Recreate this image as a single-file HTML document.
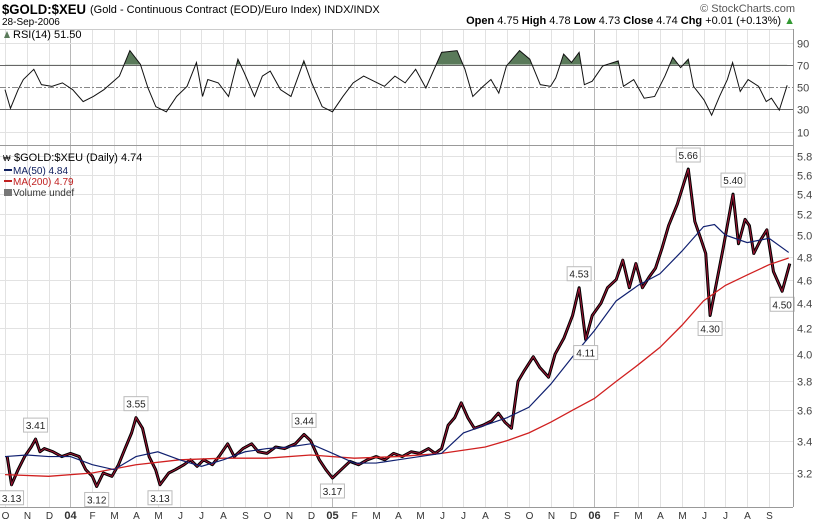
<!DOCTYPE html>
<html><head><meta charset="utf-8"><style>
body{margin:0;background:#fff;width:813px;height:523px;overflow:hidden;font-family:"Liberation Sans",sans-serif}
svg{display:block}
</style></head><body>
<svg id="chart" width="813" height="523" font-family="Liberation Sans, sans-serif">
<text x="2" y="14" font-size="14" font-weight="bold" textLength="84" lengthAdjust="spacingAndGlyphs">$GOLD:$XEU</text>
<text x="90" y="13" font-size="11">(Gold - Continuous Contract (EOD)/Euro Index) INDX/INDX</text>
<text x="2" y="25" font-size="10">28-Sep-2006</text>
<text x="795" y="12" font-size="11" text-anchor="end" fill="#555">© StockCharts.com</text>
<text x="795" y="24" font-size="11" text-anchor="end"><tspan font-weight="bold">Open</tspan> 4.75 <tspan font-weight="bold">High</tspan> 4.78 <tspan font-weight="bold">Low</tspan> 4.73 <tspan font-weight="bold">Close</tspan> 4.74 <tspan font-weight="bold">Chg</tspan> +0.01 (+0.13%) <tspan fill="#393">▲</tspan></text>
<g id="grid"></g>
<g id="rsi"></g>
<g id="price"></g>
<g id="axes"></g>
<text x="13" y="38" font-size="11">RSI(14) 51.50</text>
<path d="M4 38 L7 31 L10 38 Z" fill="#5a7a5a"/>
<text x="14" y="161" font-size="11">$GOLD:$XEU (Daily) 4.74</text>
<text x="3" y="161" font-size="8">₩</text>
<line x1="4" y1="170" x2="12" y2="170" stroke="#102060" stroke-width="2"/>
<text x="13" y="174" font-size="10" fill="#102060">MA(50) 4.84</text>
<line x1="4" y1="181" x2="12" y2="181" stroke="#c02020" stroke-width="2"/>
<text x="13" y="185" font-size="10" fill="#c02020">MA(200) 4.79</text>
<text x="13" y="196" font-size="10" fill="#333">Volume undef</text>
<rect x="4" y="189" width="8" height="7" fill="#777"/>
</svg>
<script>
const monthLabels=["O","N","D","04","F","M","A","M","J","J","A","S","O","N","D","05","F","M","A","M","J","J","A","S","O","N","D","06","F","M","A","M","J","J","A","S"];
const priceTicks=[3.2,3.4,3.6,3.8,4.0,4.2,4.4,4.6,4.8,5.0,5.2,5.4,5.6,5.8];
const rsiTicks=[10,30,50,70,90];
const priceT=[0.1,0.3,0.6,0.9,1.2,1.4,1.6,1.8,2.2,2.6,3.0,3.4,3.7,4.0,4.2,4.5,4.9,5.2,5.5,5.8,6.0,6.3,6.6,6.9,7.1,7.5,7.8,8.2,8.5,8.8,9.1,9.5,9.8,10.2,10.5,10.9,11.3,11.6,12.0,12.4,12.8,13.3,13.7,14.0,14.4,14.7,
15.0,15.4,15.8,16.2,16.6,17.0,17.4,17.8,18.2,18.6,19.0,19.4,19.7,20.0,20.3,20.6,20.9,21.2,21.5,21.9,22.3,22.6,22.9,23.2,23.5,23.8,24.2,24.5,24.9,25.2,25.6,26.0,26.3,26.6,26.9,27.3,27.6,28.0,28.3,28.6,28.9,29.2,29.5,29.8,30.1,30.4,30.8,31.3,31.6,31.9,32.1,32.3,32.6,32.9,33.35,33.6,33.9,34.1,34.3,34.6,34.9,35.2,35.6,35.95];
const priceV=[3.30,3.13,3.22,3.30,3.36,3.41,3.33,3.35,3.33,3.30,3.32,3.30,3.22,3.18,3.12,3.20,3.18,3.25,3.35,3.45,3.55,3.48,3.30,3.22,3.13,3.20,3.22,3.25,3.28,3.24,3.28,3.25,3.30,3.38,3.30,3.35,3.38,3.33,3.32,3.36,3.35,3.38,3.44,3.40,3.28,3.22,
3.17,3.22,3.27,3.25,3.28,3.30,3.28,3.32,3.30,3.33,3.32,3.35,3.32,3.35,3.50,3.55,3.65,3.55,3.48,3.50,3.53,3.58,3.52,3.48,3.80,3.88,3.98,3.90,3.83,4.00,4.12,4.30,4.53,4.11,4.30,4.40,4.53,4.60,4.77,4.53,4.74,4.53,4.62,4.70,4.88,5.09,5.30,5.66,5.13,4.95,4.83,4.30,4.58,4.88,5.40,4.92,5.15,5.09,4.83,4.95,5.05,4.67,4.50,4.74];
const ma50T=[0,1,2,3,4,5,6,7,8,9,10,11,12,13,14,15,16,17,18,19,20,21,22,23,24,25,26,27,28,29,30,31,32,32.5,33,34,35,35.9];
const ma50V=[3.30,3.31,3.30,3.30,3.25,3.22,3.30,3.33,3.28,3.24,3.28,3.33,3.35,3.36,3.38,3.32,3.26,3.26,3.28,3.30,3.32,3.45,3.50,3.55,3.62,3.78,3.98,4.18,4.42,4.55,4.65,4.85,5.08,5.10,5.00,4.93,4.97,4.84];
const ma200T=[0,2,4,6,8,10,12,14,16,18,20,22,23,24,25,26,27,28,29,30,31,32,33,34,35,35.9];
const ma200V=[3.19,3.18,3.20,3.25,3.28,3.29,3.29,3.31,3.29,3.30,3.32,3.36,3.40,3.45,3.52,3.60,3.68,3.80,3.92,4.05,4.22,4.42,4.55,4.64,4.73,4.79];
const rsiT=[0,0.25,0.6,0.84,1.32,1.67,2.15,2.63,3.1,3.58,4.05,4.53,5.24,5.72,6.2,6.55,6.91,7.39,7.86,8.34,8.77,9.05,9.29,9.77,10.24,10.67,10.96,11.43,11.79,12.15,12.62,13.1,13.69,14.05,14.53,15.0,15.48,15.95,16.43,16.9,17.38,17.86,18.33,18.81,19.28,20.0,20.71,21.07,21.43,21.9,22.26,22.62,22.97,23.57,24.04,24.52,24.99,25.23,25.59,25.95,26.3,26.54,26.9,27.38,28.09,28.33,28.8,29.28,29.76,30.23,30.59,30.95,31.3,31.54,32.02,32.37,32.73,33.09,33.33,33.68,34.04,34.52,34.87,35.11,35.47,35.83];
const rsiV=[47.6,30.8,47.6,56.7,65.9,52.1,50.6,53.7,47.6,36.9,41.5,47.6,59.8,82.7,70.5,49.1,32.3,27.7,41.5,50.6,72.0,41.5,56.7,53.7,41.5,75.0,62.8,41.5,59.8,64.3,47.6,41.5,73.5,53.7,32.3,27.7,41.5,53.7,59.8,55.2,50.6,59.8,53.7,65.9,49.1,81.1,82.7,65.9,41.5,50.6,56.7,44.5,68.9,82.7,75.0,52.1,50.6,58.2,79.6,72.0,81.1,52.1,55.2,68.9,73.5,50.6,56.7,39.9,41.5,59.8,76.6,67.4,75.0,50.6,38.4,24.7,41.5,56.7,72.0,46.0,56.7,50.6,36.9,39.9,29.2,51.5];
const annT=[0.3,1.4,4.2,6.0,7.1,13.7,15.0,26.3,26.6,31.3,32.3,33.35,35.6];
const annV=[3.13,3.41,3.12,3.55,3.13,3.44,3.17,4.53,4.11,5.66,4.30,5.40,4.50];
const annUp=[0,1,0,1,0,1,0,1,0,1,0,1,0];

const NS="http://www.w3.org/2000/svg";
const X0=5,XM=21.83,PR=793;
const xs=t=>X0+XM*t;
const ys=v=>156+533*(Math.log(5.8)-Math.log(v));
const yr=v=>87-(v-50)*1.1125;
function mk(tag,attrs,parent){const e=document.createElementNS(NS,tag);for(const k in attrs)e.setAttribute(k,attrs[k]);parent.appendChild(e);return e;}
const grid=document.getElementById('grid'),rsiG=document.getElementById('rsi'),pG=document.getElementById('price'),ax=document.getElementById('axes');

let fr=mk('line',{x1:0,y1:145.5,x2:PR,y2:145.5,stroke:'#999'},ax);


fr=mk('line',{x1:PR+0.5,y1:29,x2:PR+0.5,y2:507,stroke:'#999'},ax);


fr=mk('line',{x1:0,y1:507.5,x2:PR,y2:507.5,stroke:'#999'},ax);


fr=mk('line',{x1:0,y1:29.5,x2:PR,y2:29.5,stroke:'#ccc'},ax);



monthLabels.forEach((m,i)=>{
  const x=Math.round(xs(i))+0.5, yrLab=/\d/.test(m);
  const l=mk('line',{x1:x,y1:30,x2:x,y2:507,stroke:yrLab?'#b8b8b8':'#e2e2e2'},grid);
  
  
  const t=mk('text',{x:x,y:519,'font-size':yrLab?11:10,'font-weight':yrLab?'bold':'normal','text-anchor':'middle',fill:'#333'},ax);
  t.textContent=m;
  
  
});
priceTicks.forEach(v=>{
  const y=Math.round(ys(v))+0.5;
  const l=mk('line',{x1:0,y1:y,x2:PR,y2:y,stroke:'#e2e2e2'},grid);
  
  
  const t=mk('text',{x:797,y:y+4,'font-size':11,fill:'#444'},ax);
  t.textContent=v.toFixed(1);
  
  
});
rsiTicks.forEach(v=>{
  const y=Math.round(yr(v))+0.5;
  const strong=(v===70||v===30);
  const l=mk('line',{x1:0,y1:y,x2:PR,y2:y,stroke:strong?'#666':(v===50?'#888':'#e2e2e2'),'stroke-dasharray':v===50?'6,2,2,2':'none'},grid);
  
  
  const t=mk('text',{x:797,y:y+4,'font-size':11,fill:'#444'},ax);
  t.textContent=v;
  
  
});

const rsiPts=rsiT.map((t,i)=>[xs(t),yr(rsiV[i])]);
const defs=mk('defs',{},rsiG);
const cp=mk('clipPath',{id:'above70'},defs);
mk('rect',{x:0,y:0,width:PR,height:yr(70)},cp);
const y70=yr(70);
const area=mk('path',{d:'M'+rsiPts[0][0]+' '+y70+' L'+rsiPts.map(p=>p.join(' ')).join(' L')+' L'+rsiPts[rsiPts.length-1][0]+' '+y70+' Z',fill:'#5a7a5a','clip-path':'url(#above70)'},rsiG);


const rl=mk('polyline',{points:rsiPts.map(p=>p.join(',')).join(' '),fill:'none',stroke:'#111','stroke-width':1},rsiG);



const pPts=priceT.map((t,i)=>[xs(t),ys(priceV[i])]).join(' ');
let pl=mk('polyline',{points:pPts,fill:'none',stroke:'#000','stroke-width':3,'stroke-linejoin':'round'},pG);


pl=mk('polyline',{points:pPts,fill:'none',stroke:'#a01535','stroke-width':1},pG);


const m200=mk('polyline',{points:ma200T.map((t,i)=>xs(t)+','+ys(ma200V[i])).join(' '),fill:'none',stroke:'#d02020','stroke-width':1.3},pG);


const m50=mk('polyline',{points:ma50T.map((t,i)=>xs(t)+','+ys(ma50V[i])).join(' '),fill:'none',stroke:'#102070','stroke-width':1.2},pG);



annT.forEach((t,i)=>{
  const x=xs(t),y=ys(annV[i]),up=annUp[i];
  const by=up?y-21:y+6;
  const g=mk('g',{},pG);
  
  
  mk('rect',{x:x-12,y:by,width:24,height:14,fill:'#fff',stroke:'#bbb'},g);
  const tx=mk('text',{x:x,y:by+11,'font-size':10,'text-anchor':'middle',fill:'#222'},g);
  tx.textContent=annV[i].toFixed(2);
});
</script>
</body></html>
